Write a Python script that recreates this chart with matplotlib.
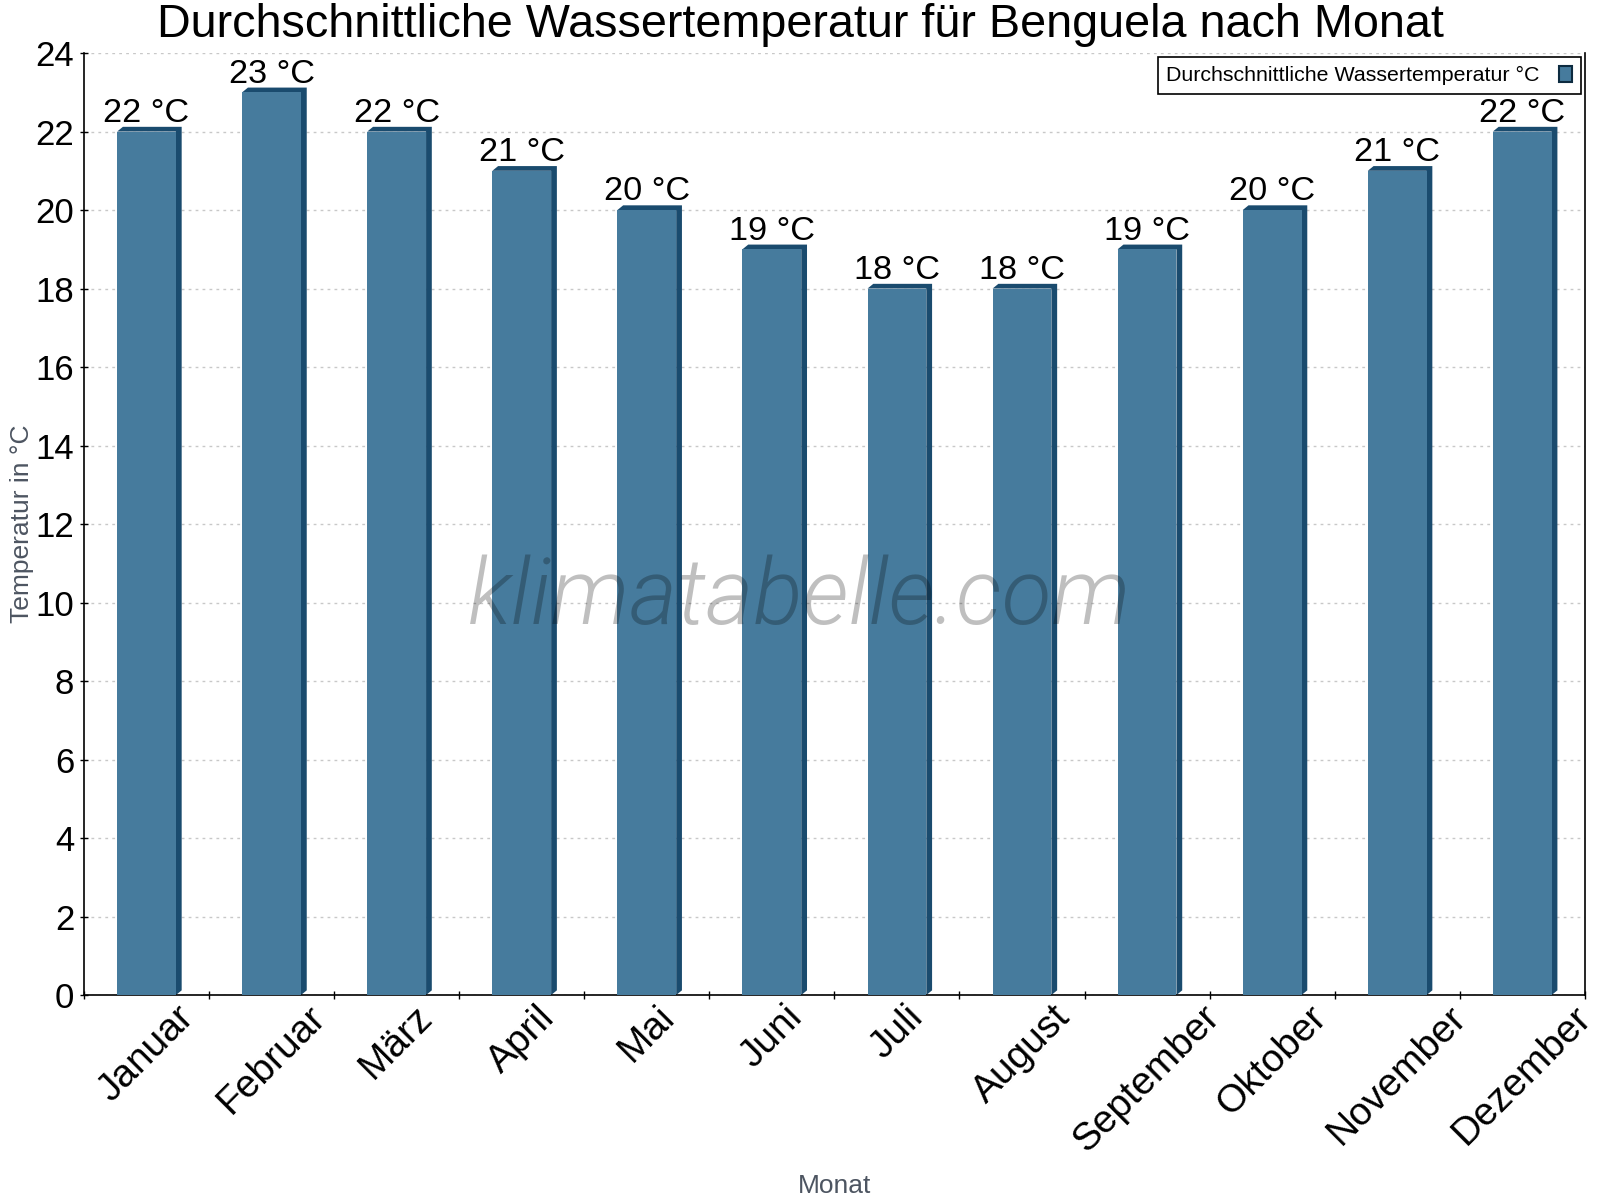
import matplotlib
matplotlib.use("Agg")
import matplotlib.pyplot as plt
from matplotlib.patches import Polygon, Patch

plt.rcParams["font.family"] = ["Liberation Sans", "DejaVu Sans"]

# --- data ---
months = ["Januar", "Februar", "März", "April", "Mai", "Juni", "Juli",
          "August", "September", "Oktober", "November", "Dezember"]
water_temp = [22, 23, 22, 21, 20, 19, 18, 18, 19, 20, 21, 22]
y_ticks = list(range(0, 25, 2))

front_col = "#467b9d"
side_col = "#1a4b6e"
label_grey = "#4d5561"

fig = plt.figure(figsize=(16, 12), dpi=100)
ax = fig.add_axes([0.0525, 0.1708, 0.938, 0.785])

bar_w = 0.47
dx, dy = 0.046, 0.12   # fake 3d depth

# dark top + side faces behind the front
for i, v in enumerate(water_temp):
    x0, x1 = i - bar_w / 2, i + bar_w / 2
    poly = Polygon([(x0, v), (x0 + dx, v + dy), (x1 + dx, v + dy),
                    (x1 + dx, dy), (x1, 0), (x1, v)],
                   closed=True, facecolor=side_col, edgecolor="none", zorder=2)
    ax.add_patch(poly)

ax.bar(range(len(months)), water_temp, width=bar_w, color=front_col, zorder=3)

for i, v in enumerate(water_temp):
    ax.annotate(f"{v} °C", (i, v), xytext=(0, 7), textcoords="offset points",
                ha="center", va="baseline", fontsize=24.7, zorder=5)

ax.set_xlim(-0.5, len(months) - 0.5)
ax.set_ylim(0, 24)
ax.set_yticks(y_ticks)
ax.tick_params(axis="y", direction="inout", length=6, width=1, labelsize=25, pad=4)

# ticks on the category borders, labels in the middle
ax.set_xticks([k - 0.5 for k in range(len(months) + 1)])
ax.set_xticklabels([])
ax.set_xticks(range(len(months)), months, minor=True)
ax.tick_params(axis="x", which="major", direction="inout", length=6, width=1)
ax.tick_params(axis="x", which="minor", length=0, labelsize=28, pad=3)
for lab in ax.get_xticklabels(minor=True):
    lab.set_rotation(45)
    lab.set_ha("center")
    lab.set_va("top")

ax.grid(axis="y", color="#c8c8c8", linestyle=(0, (2, 3)), linewidth=1, zorder=0)
ax.set_axisbelow(True)

ax.spines["top"].set_visible(False)
for s in ["left", "bottom", "right"]:
    ax.spines[s].set_linewidth(1.2)
    ax.spines[s].set_color("black")

ax.set_ylabel("Temperatur in °C", fontsize=19, color=label_grey)
ax.yaxis.set_label_coords(-0.041, 0.5)
ax.yaxis.label.set_va("center")
ax.set_xlabel("Monat", fontsize=19, color=label_grey)
ax.xaxis.set_label_coords(0.5, -0.203)
ax.xaxis.label.set_va("center")

fig.text(0.5, 0.969, "Durchschnittliche Wassertemperatur für Benguela nach Monat",
         ha="center", va="baseline", fontsize=33.7)

# watermark
fig.text(0.5, 0.48, "klimatabelle.com", ha="center", va="baseline",
         fontsize=66, family="Roboto", weight=300, style="italic",
         color="black", alpha=0.25, zorder=6)

handle = Patch(facecolor=front_col, edgecolor="#0d2b40", linewidth=1.5)
leg = ax.legend([handle], ["Durchschnittliche Wassertemperatur °C"], loc="upper right",
                fontsize=15.4, markerfirst=False, fancybox=False, framealpha=1,
                edgecolor="black", handlelength=0.62, handleheight=0.76,
                handletextpad=0.9, borderaxespad=0.2, borderpad=0.4)
leg.get_frame().set_linewidth(1.2)
leg.set_zorder(7)

fig.savefig("out.png", dpi=100)
